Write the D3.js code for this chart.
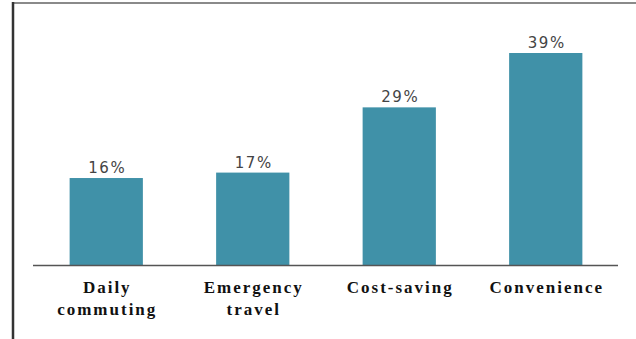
<!DOCTYPE html>
<html><head><meta charset="utf-8">
<script src="https://cdn.jsdelivr.net/npm/d3@7"></script>
<style>html,body{margin:0;padding:0;background:#fff;}</style>
</head><body>
<svg id="chart" width="636" height="339"></svg>
<script>
const categories = [["Daily","commuting"],["Emergency","travel"],["Cost-saving"],["Convenience"]];
const values = [16, 17, 29, 39];
const valueLabels = ["16%","17%","29%","39%"];

const svg = d3.select("#chart");
// frame
svg.append("line").attr("x1",12).attr("x2",636).attr("y1",3).attr("y2",3)
  .attr("stroke","#8a8a8a").attr("stroke-width",2);
svg.append("line").attr("x1",13).attr("x2",13).attr("y1",2).attr("y2",339)
  .attr("stroke","#333").attr("stroke-width",2.5);

const x = d3.scaleBand().domain(d3.range(values.length)).range([33, 619]).paddingInner(0.5).paddingOuter(0.25);
const y = d3.scaleLinear().domain([0, 39]).range([265, 53]);

svg.selectAll("rect.bar").data(values).join("rect").attr("class","bar")
  .attr("x",(d,i)=>x(i)).attr("width",x.bandwidth())
  .attr("y",d=>y(d)).attr("height",d=>y(0)-y(d))
  .attr("fill","#4091a8");

svg.append("line").attr("x1",33).attr("x2",618).attr("y1",265.5).attr("y2",265.5)
  .attr("stroke","#555").attr("stroke-width",1.5);

svg.selectAll("text.val").data(values).join("text").attr("class","val")
  .attr("x",(d,i)=>x(i)+x.bandwidth()/2+1).attr("y",d=>y(d)-5)
  .attr("text-anchor","middle").attr("font-family","DejaVu Sans").attr("font-size",15)
  .attr("letter-spacing","1.5px").attr("fill","#444")
  .text((d,i)=>valueLabels[i]);

const cat = svg.selectAll("text.cat").data(categories).join("text").attr("class","cat")
  .attr("x",(d,i)=>x(i)+x.bandwidth()/2).attr("y",293)
  .attr("text-anchor","middle").attr("font-family","Liberation Serif").attr("font-weight","bold")
  .attr("font-size",17).attr("letter-spacing","2px").attr("fill","#111");
cat.each(function(d,i){
  const t = d3.select(this);
  d.forEach((line,j)=>{
    t.append("tspan").attr("x",x(i)+x.bandwidth()/2+1).attr("dy", j===0?0:22).text(line);
  });
});
</script>
</body></html>
